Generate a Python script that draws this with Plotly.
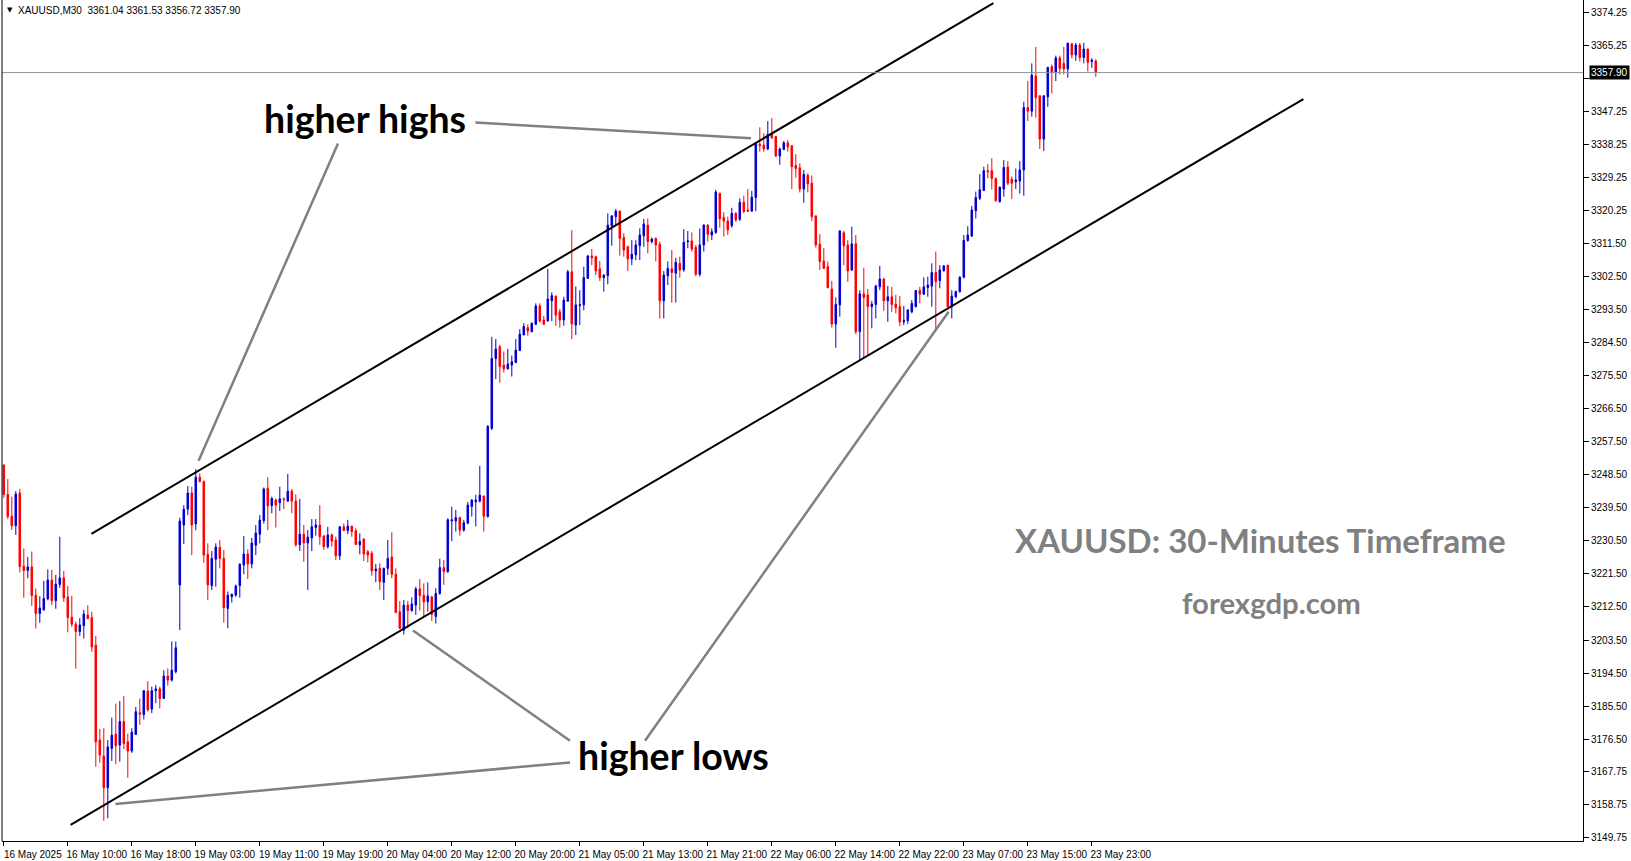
import plotly.graph_objects as go

# ---------------- data (XAUUSD M30, bar index 0 = 16 May 02:00) ----------------
opens = [3251.1,3243.1,3237.2,3234.6,3243.5,3223.6,3222.4,3223.4,3215.7,3210.7,
3211.7,3214.7,3219.8,3214.2,3218.6,3220.4,3215.2,3209.7,3207.8,3205.8,
3207.4,3210.3,3209.6,3202.1,3176.3,3171.9,3163.3,3174.0,3177.9,3174.9,
3181.3,3175.8,3173.3,3177.8,3183.7,3183.2,3189.6,3184.7,3189.7,3190.2,
3187.6,3193.7,3192.6,3194.9,3218.5,3234.8,3239.1,3243.5,3235.1,3247.8,
3246.6,3226.8,3218.3,3225.5,3228.7,3225.7,3212.1,3215.3,3215.7,3218.3,
3223.9,3226.9,3224.2,3229.3,3232.3,3236.0,3244.8,3240.1,3241.6,3240.9,
3241.9,3241.3,3244.0,3241.3,3229.4,3232.3,3229.9,3231.3,3234.1,3234.8,
3231.8,3228.9,3232.1,3230.7,3226.4,3234.3,3233.3,3234.5,3233.2,3229.4,
3231.0,3227.5,3227.1,3222.3,3223.0,3219.2,3223.0,3226.1,3221.4,3211.2,
3206.2,3213.0,3211.5,3213.0,3217.4,3215.7,3213.9,3215.2,3209.9,3216.2,
3223.2,3222.1,3235.9,3235.9,3236.8,3233.4,3235.3,3239.8,3241.1,3241.3,
3242.7,3237.1,3261.1,3280.1,3283.3,3278.3,3277.3,3278.3,3279.0,3282.3,
3286.5,3288.5,3287.4,3289.4,3294.4,3290.6,3290.3,3295.8,3297.1,3292.8,
3290.6,3295.7,3303.7,3289.2,3294.5,3294.7,3301.9,3308.0,3307.8,3304.5,
3302.1,3302.6,3316.2,3318.7,3320.2,3313.0,3310.5,3307.2,3308.3,3310.8,
3313.5,3316.4,3311.9,3312.8,3311.2,3295.8,3302.6,3304.5,3303.3,3306.0,
3304.2,3311.9,3312.1,3310.3,3303.0,3311.0,3316.4,3313.7,3314.4,3325.0,
3318.5,3317.5,3316.2,3319.6,3318.0,3322.6,3320.5,3320.2,3323.9,3338.4,
3338.2,3337.1,3341.4,3340.5,3335.2,3337.0,3338.8,3338.0,3332.6,3332.0,
3326.2,3330.0,3327.8,3318.9,3311.2,3306.6,3305.1,3299.0,3289.5,3294.7,
3314.3,3311.0,3304.2,3311.3,3287.4,3297.7,3297.4,3294.2,3294.8,3299.6,
3301.7,3295.8,3296.9,3294.9,3294.2,3290.1,3290.4,3292.8,3294.2,3298.6,
3297.6,3299.4,3299.8,3303.5,3301.3,3304.0,3305.5,3294.2,3296.9,3298.3,
3302.2,3312.2,3313.4,3320.3,3323.7,3325.8,3331.2,3331.2,3329.1,3322.8,
3326.2,3332.2,3328.9,3328.2,3328.4,3331.4,3348.4,3347.4,3357.0,3351.6,
3339.8,3351.3,3359.5,3358.0,3361.9,3360.4,3358.9,3365.7,3362.7,3365.4,
3362.0,3364.3,3360.9,3361.04]
highs = [3251.3,3247.3,3242.5,3244.0,3244.6,3228.4,3226.1,3227.6,3217.5,3215.4,
3219.6,3222.7,3222.6,3221.2,3231.6,3222.3,3218.2,3215.5,3208.5,3209.5,
3211.7,3213.0,3211.2,3204.6,3179.3,3179.5,3176.3,3182.4,3186.2,3186.9,
3188.3,3178.0,3179.5,3185.3,3187.6,3189.9,3192.3,3190.8,3191.3,3190.8,
3195.3,3195.8,3203.1,3203.1,3236.8,3240.2,3245.4,3245.2,3250.0,3248.8,
3246.9,3229.8,3227.7,3229.8,3230.7,3228.0,3216.7,3216.2,3218.6,3224.4,
3231.8,3228.2,3231.3,3234.8,3237.5,3245.0,3247.8,3242.5,3242.0,3245.2,
3242.3,3248.7,3244.6,3243.1,3241.9,3234.8,3233.4,3236.4,3236.4,3240.2,
3232.1,3234.3,3232.5,3231.6,3234.5,3235.2,3236.2,3234.6,3233.9,3232.5,
3231.1,3228.0,3227.7,3224.2,3224.4,3223.2,3230.7,3232.8,3223.0,3214.1,
3214.4,3214.1,3215.1,3218.0,3220.1,3218.9,3219.2,3215.6,3217.6,3225.6,
3225.3,3236.6,3239.8,3238.9,3237.1,3236.2,3241.1,3241.8,3243.0,3250.9,
3242.8,3262.0,3286.0,3285.4,3283.8,3282.0,3282.7,3280.9,3285.4,3288.1,
3289.7,3289.4,3289.9,3295.1,3295.1,3291.7,3304.5,3298.1,3297.2,3293.6,
3296.9,3304.2,3315.0,3299.7,3298.7,3305.1,3308.3,3309.9,3308.1,3306.6,
3303.0,3319.6,3319.1,3320.8,3320.4,3314.2,3310.8,3312.3,3312.3,3315.5,
3318.1,3318.2,3313.0,3313.0,3311.9,3303.9,3306.5,3309.6,3307.5,3307.8,
3315.3,3314.8,3314.4,3311.0,3315.5,3316.6,3316.6,3315.5,3326.0,3325.3,
3319.9,3318.7,3321.1,3319.9,3323.7,3324.4,3326.2,3325.7,3338.9,3343.0,
3341.4,3344.7,3345.5,3340.6,3337.5,3339.3,3339.6,3338.1,3335.7,3333.2,
3331.4,3330.5,3329.9,3319.0,3313.9,3310.1,3306.5,3301.2,3296.7,3315.0,
3314.8,3312.3,3316.0,3313.7,3298.7,3304.8,3299.0,3295.8,3300.2,3305.3,
3302.1,3299.8,3299.6,3297.4,3297.1,3294.4,3293.5,3296.0,3298.7,3299.6,
3302.2,3302.4,3306.0,3309.2,3305.5,3305.5,3305.6,3298.7,3298.6,3302.5,
3313.7,3316.1,3321.6,3325.5,3330.3,3332.3,3333.0,3334.6,3329.3,3326.9,
3334.1,3333.8,3329.6,3331.8,3333.8,3350.0,3355.6,3360.4,3364.9,3351.6,
3351.6,3359.5,3360.1,3362.5,3362.5,3364.9,3366.0,3366.0,3366.0,3366.0,
3366.0,3364.4,3361.8,3361.53]
lows = [3242.2,3236.4,3233.4,3232.1,3221.9,3215.0,3220.3,3212.8,3206.6,3208.2,
3211.5,3214.3,3213.0,3212.0,3217.7,3213.9,3205.6,3207.1,3195.7,3204.6,
3203.9,3209.2,3200.3,3169.0,3170.1,3154.3,3155.0,3170.6,3169.7,3170.4,
3173.8,3166.0,3172.8,3177.8,3180.4,3181.9,3184.0,3183.6,3186.3,3184.9,
3187.5,3191.1,3192.2,3194.4,3206.2,3229.6,3237.5,3226.6,3233.4,3246.4,
3224.5,3214.4,3217.1,3218.0,3223.0,3208.2,3206.7,3213.7,3215.3,3215.0,
3221.4,3220.1,3223.0,3226.6,3229.8,3235.2,3233.4,3238.0,3234.1,3238.6,
3239.1,3241.1,3238.0,3228.9,3227.7,3224.8,3217.1,3227.7,3231.9,3229.4,
3228.0,3228.4,3228.9,3225.3,3225.3,3233.2,3232.3,3231.6,3229.4,3226.8,
3225.0,3224.6,3221.0,3219.2,3217.1,3214.4,3221.2,3220.3,3210.8,3206.5,
3205.0,3206.7,3211.2,3210.3,3211.5,3209.9,3211.2,3208.7,3208.0,3215.8,
3218.5,3221.8,3230.4,3233.0,3231.9,3233.0,3235.0,3237.1,3234.4,3240.9,
3233.0,3236.8,3260.6,3274.5,3273.5,3276.3,3277.1,3275.2,3278.8,3282.1,
3286.5,3286.3,3287.2,3289.2,3289.9,3289.2,3290.2,3290.3,3289.0,3288.5,
3289.0,3295.6,3285.4,3286.5,3289.2,3293.2,3301.8,3305.5,3302.8,3301.2,
3298.3,3300.3,3310.8,3316.4,3308.1,3307.8,3303.9,3305.5,3306.9,3306.9,
3310.5,3308.7,3311.4,3306.5,3290.9,3291.0,3300.1,3295.3,3295.3,3302.1,
3303.7,3310.1,3309.2,3302.5,3302.4,3309.2,3311.9,3312.3,3314.0,3315.7,
3313.3,3313.7,3315.7,3317.3,3317.5,3319.6,3320.0,3320.0,3320.2,3336.4,
3336.4,3336.8,3339.8,3335.0,3332.8,3336.8,3336.4,3326.2,3329.3,3325.3,
3322.5,3325.3,3317.5,3310.3,3304.2,3304.5,3299.2,3288.5,3283.0,3291.5,
3305.5,3301.0,3303.9,3286.7,3279.7,3280.2,3281.1,3288.3,3291.0,3298.7,
3293.1,3290.1,3292.8,3292.4,3288.9,3289.2,3289.5,3292.4,3294.0,3295.1,
3297.4,3296.9,3294.2,3287.9,3299.2,3303.7,3294.0,3291.0,3296.5,3298.0,
3301.9,3311.9,3313.2,3318.2,3323.2,3325.8,3329.1,3326.1,3322.8,3322.5,
3324.1,3327.3,3323.5,3326.2,3325.0,3324.4,3344.7,3345.9,3345.6,3337.1,
3336.6,3348.6,3352.2,3355.6,3357.4,3357.4,3356.5,3361.8,3361.1,3360.9,
3360.4,3358.2,3359.2,3356.72]
closes = [3243.1,3237.1,3234.6,3243.2,3223.5,3222.4,3223.4,3215.6,3210.7,3212.2,
3214.8,3219.8,3214.2,3218.7,3220.4,3215.0,3209.6,3207.8,3205.8,3207.6,
3210.6,3209.3,3201.6,3175.8,3172.2,3163.3,3174.4,3177.6,3174.7,3181.3,
3175.3,3173.3,3178.4,3184.0,3183.3,3189.7,3184.5,3189.7,3190.2,3187.6,
3193.7,3192.6,3195.3,3201.4,3235.9,3239.1,3243.5,3234.8,3247.8,3246.6,
3226.6,3218.5,3225.7,3228.8,3225.7,3212.3,3215.7,3215.9,3218.2,3224.1,
3226.9,3224.2,3229.9,3232.6,3236.1,3244.6,3240.0,3242.0,3240.2,3241.9,
3241.7,3244.0,3241.3,3229.4,3232.3,3229.9,3231.5,3234.3,3234.8,3231.6,
3228.9,3232.1,3230.4,3226.4,3234.3,3233.3,3234.5,3233.0,3229.5,3230.3,
3226.9,3226.6,3222.3,3222.8,3219.4,3223.0,3225.7,3221.4,3211.0,3206.7,
3213.0,3211.5,3213.3,3217.4,3215.6,3213.9,3215.5,3210.5,3216.2,3223.2,
3222.1,3236.2,3236.2,3236.8,3233.4,3235.4,3240.2,3241.6,3241.6,3242.9,
3237.2,3261.6,3280.1,3282.7,3277.9,3277.3,3278.6,3279.2,3282.4,3286.7,
3288.8,3287.6,3289.7,3294.4,3290.3,3289.4,3296.3,3297.2,3291.9,3290.6,
3296.0,3303.7,3289.5,3294.7,3294.7,3302.1,3308.0,3307.5,3303.9,3302.1,
3302.8,3316.4,3318.9,3320.2,3312.8,3309.6,3307.2,3308.5,3311.0,3313.7,
3316.7,3311.9,3312.6,3311.0,3295.8,3302.8,3304.6,3303.5,3306.3,3304.2,
3311.7,3312.1,3309.9,3303.0,3311.0,3316.4,3313.9,3314.6,3325.4,3318.1,
3317.5,3315.1,3319.6,3317.8,3322.6,3320.1,3320.2,3324.0,3338.6,3338.0,
3337.1,3341.1,3340.2,3335.2,3337.1,3338.8,3337.7,3332.3,3331.8,3326.2,
3330.2,3327.6,3318.7,3311.0,3306.5,3304.6,3299.4,3289.5,3294.8,3314.8,
3310.8,3303.9,3311.3,3287.4,3297.7,3296.7,3294.2,3294.9,3299.8,3301.7,
3295.8,3296.9,3294.8,3293.9,3290.1,3290.4,3293.3,3295.1,3298.6,3297.6,
3299.6,3300.1,3303.5,3301.0,3304.2,3305.3,3294.2,3297.1,3298.3,3302.2,
3312.2,3313.7,3320.5,3323.9,3326.0,3331.2,3330.9,3329.1,3323.0,3326.7,
3332.1,3327.8,3327.8,3328.7,3331.4,3348.4,3347.4,3357.2,3351.1,3339.8,
3351.6,3359.3,3358.0,3361.9,3359.0,3358.9,3365.9,3362.7,3365.4,3362.0,
3364.3,3360.7,3361.3,3357.90]

time_tick_bars = list(range(0, 273, 16))
time_tick_labels = ["16 May 2025", "16 May 10:00", "16 May 18:00", "19 May 03:00",
                    "19 May 11:00", "19 May 19:00", "20 May 04:00", "20 May 12:00",
                    "20 May 20:00", "21 May 05:00", "21 May 13:00", "21 May 21:00",
                    "22 May 06:00", "22 May 14:00", "22 May 22:00", "23 May 07:00",
                    "23 May 15:00", "23 May 23:00"]
price_ticks = [3374.25, 3365.25, 3356.25, 3347.25, 3338.25, 3329.25, 3320.25, 3311.50,
               3302.50, 3293.50, 3284.50, 3275.50, 3266.50, 3257.50, 3248.50, 3239.50,
               3230.50, 3221.50, 3212.50, 3203.50, 3194.50, 3185.50, 3176.50, 3167.75,
               3158.75, 3149.75]
last_price = 3357.90
# the 3356.25 label sits under the last-price box in the reference, so it is not printed
price_tick_labels = ["" if abs(v - last_price) < 3 else f"{v:.2f}" for v in price_ticks]
header_text = "XAUUSD,M30  3361.04 3361.53 3356.72 3357.90"

# annotation geometry (bar index, price)
upper_channel = ((21.9, 3232.4), (247.4, 3376.8))
lower_channel = ((16.7, 3153.2), (324.9, 3350.7))
pointer_lines = [((117.9, 3344.3), (186.8, 3340.0)),
                 ((83.55, 3338.6), (48.7, 3252.3)),
                 ((141.55, 3176.1), (102.3, 3206.1)),
                 ((141.55, 3170.2), (27.9, 3158.9)),
                 ((160.3, 3176.1), (236.2, 3292.8))]

BLUE = "#0000d0"
RED = "#ff0000"

x = list(range(len(opens)))
fig = go.Figure()
fig.add_trace(go.Candlestick(
    x=x, open=opens, high=highs, low=lows, close=closes,
    increasing=dict(line=dict(color=BLUE, width=1), fillcolor=BLUE),
    decreasing=dict(line=dict(color=RED, width=1), fillcolor=RED),
    whiskerwidth=0, hoverinfo="skip", showlegend=False))

shapes = []
for (x0, y0), (x1, y1) in [upper_channel, lower_channel]:
    shapes.append(dict(type="line", x0=x0, y0=y0, x1=x1, y1=y1, xref="x", yref="y",
                       line=dict(color="black", width=2)))
for (x0, y0), (x1, y1) in pointer_lines:
    shapes.append(dict(type="line", x0=x0, y0=y0, x1=x1, y1=y1, xref="x", yref="y",
                       line=dict(color="#808080", width=2.5)))
# last price line
shapes.append(dict(type="line", x0=0, x1=1, xref="paper", y0=last_price, y1=last_price,
                   yref="y", line=dict(color="#8a94a0", width=1)))
# left frame line
shapes.append(dict(type="line", x0=0, x1=0, xref="paper", y0=0, y1=1, yref="paper",
                   line=dict(color="black", width=1)))

ann = []
ann.append(dict(x=90.3, y=3345.4, xref="x", yref="y", text="<b>higher highs</b>",
                showarrow=False, font=dict(family="Lato", size=37.5, color="black")))
ann.append(dict(x=167.3, y=3172.2, xref="x", yref="y", text="<b>higher lows</b>",
                showarrow=False, font=dict(family="Lato", size=37.5, color="black")))
ann.append(dict(x=314.2, y=3230.6, xref="x", yref="y", text="<b>XAUUSD: 30-Minutes Timeframe</b>",
                showarrow=False, font=dict(family="Lato", size=33, color="#808080")))
ann.append(dict(x=316.8, y=3213.7, xref="x", yref="y", text="<b>forexgdp.com</b>",
                showarrow=False, font=dict(family="Lato", size=29.3, color="#808080")))
ann.append(dict(x=0, y=1, xref="paper", yref="paper", xanchor="left", yanchor="top",
                xshift=3, yshift=-4, text="▼", showarrow=False,
                font=dict(family="DejaVu Sans", size=7, color="black")))
ann.append(dict(x=0, y=1, xref="paper", yref="paper", xanchor="left", yanchor="top",
                xshift=14, yshift=-3, text=header_text, showarrow=False,
                font=dict(family="Liberation Sans", size=10, color="black")))
ann.append(dict(x=1, y=last_price, xref="paper", yref="y", xanchor="left", yanchor="middle",
                xshift=6, text=f"{last_price:.2f}", showarrow=False, bgcolor="black",
                borderpad=1, font=dict(family="Liberation Sans", size=10, color="white")))

fig.update_layout(
    width=1631, height=861,
    margin=dict(l=2, r=48, t=0, b=20),
    paper_bgcolor="white", plot_bgcolor="white",
    shapes=shapes, annotations=ann, showlegend=False, hovermode=False,
    boxgap=0.45,
    font=dict(family="Liberation Sans", size=10, color="black"),
    xaxis=dict(range=[-0.45, 394.8], rangeslider=dict(visible=False), showgrid=False,
               zeroline=False, showline=True, linecolor="black", linewidth=1,
               ticks="outside", ticklen=4, tickcolor="black",
               tickvals=time_tick_bars, ticktext=time_tick_labels, ticklabelshift=29,
               tickfont=dict(family="Liberation Sans", size=10, color="black")),
    yaxis=dict(range=[3148.81, 3377.65], side="right", showgrid=False, zeroline=False,
               showline=True, linecolor="black", linewidth=1,
               ticks="outside", ticklen=5, tickcolor="black",
               tickvals=price_ticks, ticktext=price_tick_labels,
               tickfont=dict(family="Liberation Sans", size=10, color="black")),
)

fig.write_html("out.html", config={"displayModeBar": False},
               post_script="document.body.style.margin='0';document.body.style.overflow='hidden';")
